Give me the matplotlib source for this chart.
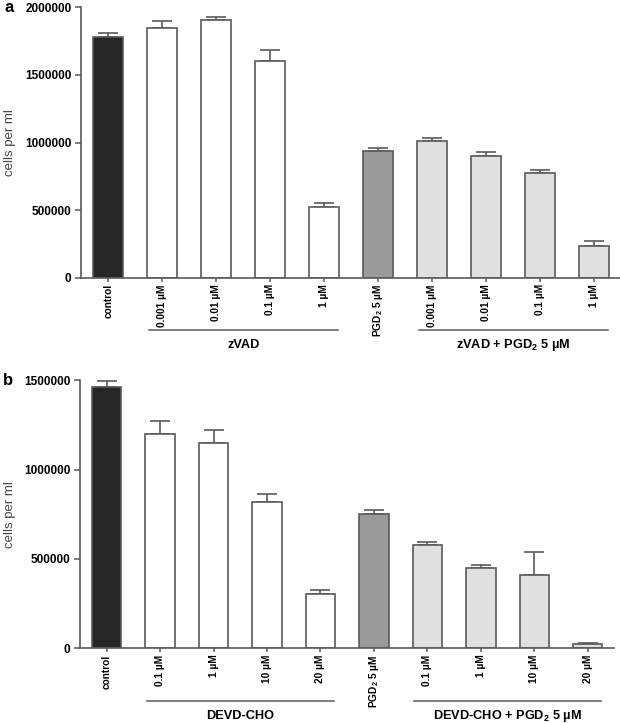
import matplotlib
matplotlib.use("Agg")
import matplotlib.pyplot as plt
import numpy as np

plt.rcParams["font.family"] = ["Liberation Sans", "DejaVu Sans"]
plt.rcParams["mathtext.fontset"] = "custom"
plt.rcParams["mathtext.rm"] = "Liberation Sans"
plt.rcParams["mathtext.bf"] = "Liberation Sans:bold"

PGD = r"PGD$_\mathbf{2}$"

# panel a: zVAD
labels_a = ["control", "0.001 µM", "0.01 µM", "0.1 µM", "1 µM",
            PGD + " 5 µM", "0.001 µM", "0.01 µM", "0.1 µM", "1 µM"]
values_a = [1778000, 1842000, 1906000, 1601000, 526000,
            937000, 1011000, 900000, 777000, 238000]
errors_a = [29000, 52000, 18000, 82000, 25000,
            25000, 22000, 32000, 22000, 35000]
groups_a = ["zVAD", "zVAD + " + PGD + " 5 µM"]

# panel b: DEVD-CHO
labels_b = ["control", "0.1 µM", "1 µM", "10 µM", "20 µM",
            PGD + " 5 µM", "0.1 µM", "1 µM", "10 µM", "20 µM"]
values_b = [1464000, 1201000, 1151000, 817000, 306000,
            750000, 580000, 449000, 412000, 26000]
errors_b = [34000, 70000, 71000, 48000, 22000,
            22000, 13000, 16000, 125000, 5000]
groups_b = ["DEVD-CHO", "DEVD-CHO + " + PGD + " 5 µM"]

colors = ["#262626"] + ["#ffffff"] * 4 + ["#9a9a9a"] + ["#e0e0e0"] * 4
EDGE = "#5a5a5a"


def draw_panel(ax, letter, labels, values, errors, groups, ymax, step,
               line_y, text_y):
    x = np.arange(len(values))
    ax.bar(x, values, width=0.55, color=colors, edgecolor=EDGE,
           linewidth=1.2, zorder=2)
    ax.errorbar(x, values, yerr=[np.zeros(len(errors)), errors], fmt="none",
                ecolor=EDGE, elinewidth=1.2, capsize=7, capthick=1.2,
                zorder=1)
    ax.set_xlim(-0.5, 9.5)
    ax.set_ylim(0, ymax)
    ax.set_yticks(np.arange(0, ymax + 1, step))
    ax.set_yticklabels([str(int(v)) for v in np.arange(0, ymax + 1, step)],
                       fontsize=8.5, fontweight="bold")
    ax.set_xticks(x)
    ax.set_xticklabels(labels, rotation=90, fontsize=7.3, fontweight="bold")
    for side in ["top", "right"]:
        ax.spines[side].set_visible(False)
    for side in ["left", "bottom"]:
        ax.spines[side].set_color(EDGE)
        ax.spines[side].set_linewidth(1.2)
    ax.tick_params(axis="both", direction="out", length=4, width=1.1,
                   color=EDGE, pad=3)
    ax.tick_params(axis="x", length=3, pad=1.5)

    # group underlines and names
    trans = ax.get_xaxis_transform()
    for (start, end), name in zip([(0.75, 4.25), (5.75, 9.25)], groups):
        ax.plot([start, end], [line_y, line_y], color=EDGE, lw=1.1,
                transform=trans, clip_on=False)
        ax.text((start + end) / 2, text_y, name, transform=trans,
                ha="center", va="center", fontsize=9.2, fontweight="bold")

    ax.text(-0.125, 1.0, letter, transform=ax.transAxes, fontsize=12,
            fontweight="bold", ha="right", va="center")


fig = plt.figure(figsize=(6.2, 7.23), dpi=100)
ax_a = fig.add_axes([0.131, 0.6155, 0.871, 0.3748])
ax_b = fig.add_axes([0.129, 0.1033, 0.862, 0.3707])

draw_panel(ax_a, "a", labels_a, values_a, errors_a, groups_a,
           2000000, 500000, -0.191, -0.246)
draw_panel(ax_b, "b", labels_b, values_b, errors_b, groups_b,
           1500000, 500000, -0.197, -0.253)

for ax in (ax_a, ax_b):
    pos = ax.get_position()
    fig.text(10 / 620, (pos.y0 + pos.y1) / 2, "cells per ml", rotation=90,
             ha="center", va="center", fontsize=9.5, color="#444444")

fig.savefig("out.png", dpi=100)
